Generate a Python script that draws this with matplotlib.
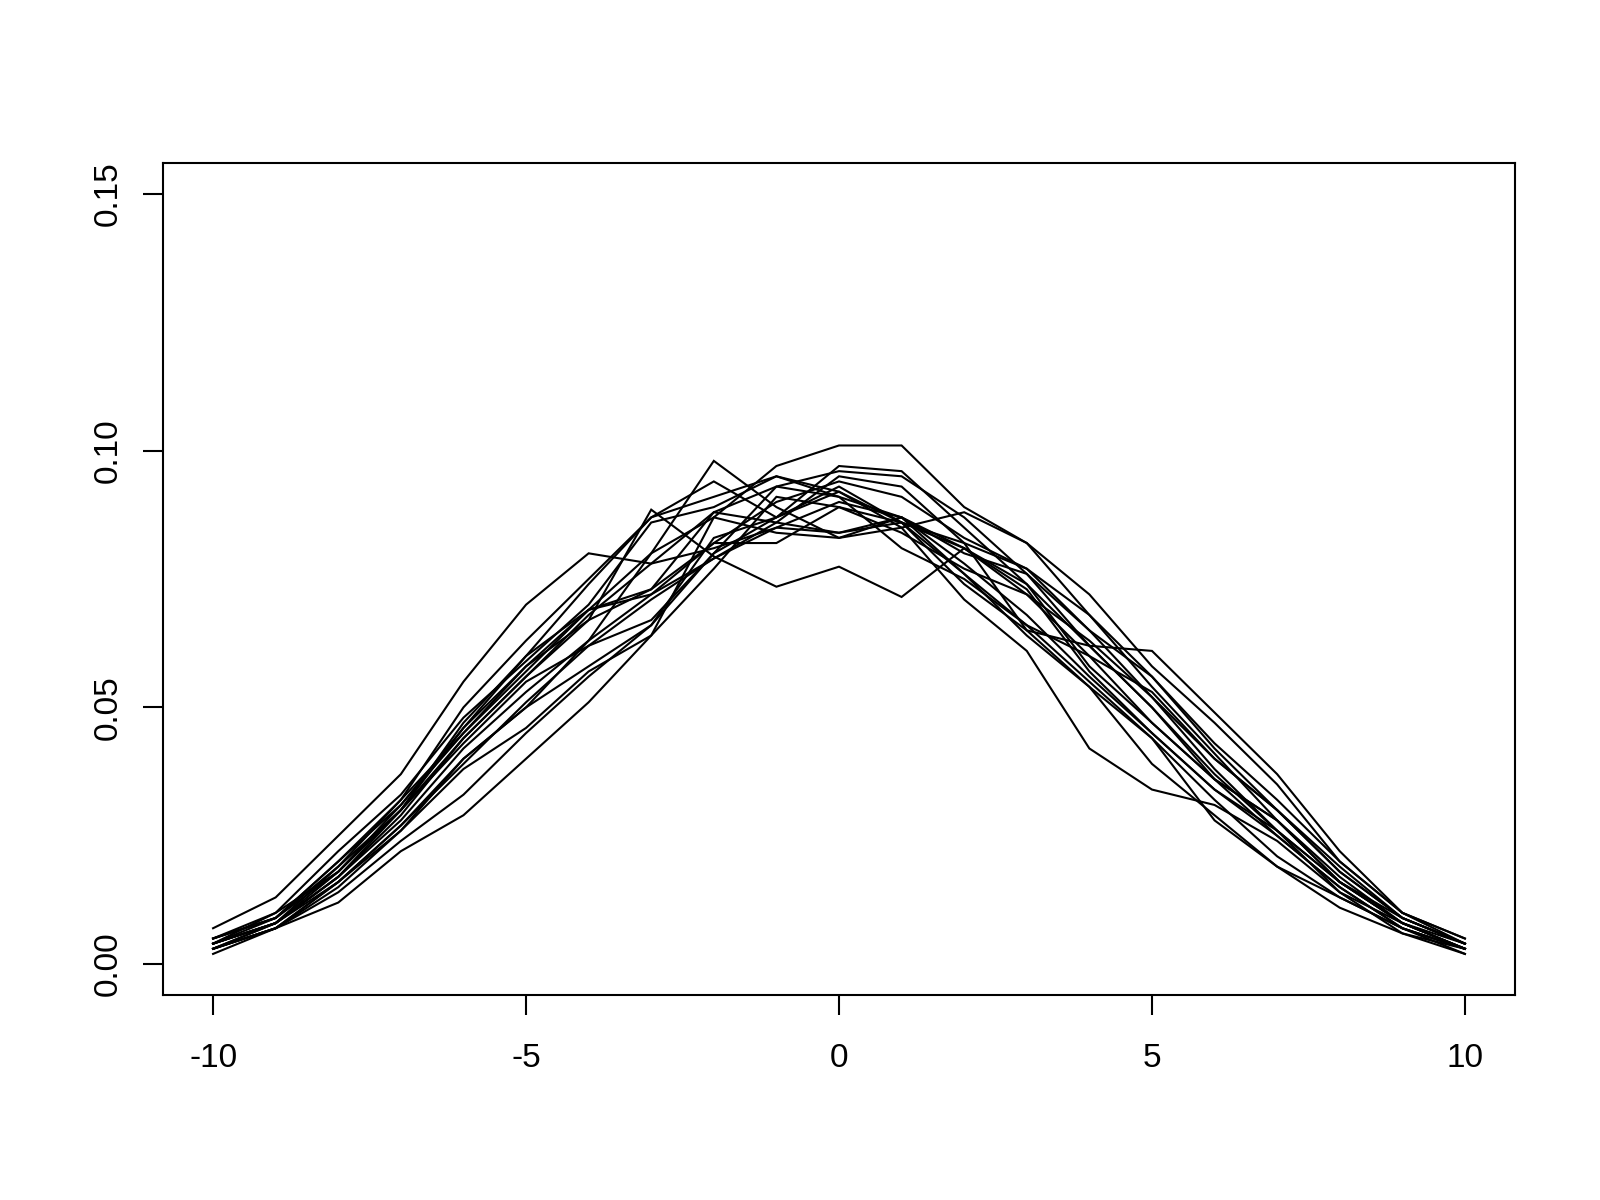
import matplotlib
matplotlib.use("Agg")
import matplotlib.pyplot as plt

x = list(range(-10, 11))

line01 = [0.004,0.008,0.016,0.027,0.040,0.050,0.063,0.080,0.087,0.097,0.101,0.101,0.089,0.082,0.068,0.054,0.041,0.028,0.017,0.008,0.004]
line02 = [0.005,0.009,0.020,0.031,0.045,0.058,0.067,0.0885,0.0794,0.0735,0.0774,0.0715,0.081,0.074,0.062,0.050,0.036,0.028,0.016,0.008,0.003]
line03 = [0.004,0.010,0.018,0.030,0.047,0.060,0.069,0.080,0.098,0.089,0.083,0.087,0.080,0.076,0.065,0.052,0.040,0.030,0.018,0.009,0.004]
line04 = [0.007,0.013,0.025,0.037,0.055,0.070,0.080,0.078,0.081,0.085,0.084,0.086,0.082,0.065,0.062,0.061,0.049,0.037,0.022,0.010,0.005]
line05 = [0.003,0.008,0.019,0.032,0.050,0.063,0.075,0.087,0.094,0.087,0.092,0.085,0.071,0.061,0.042,0.034,0.031,0.024,0.014,0.008,0.003]
line06 = [0.004,0.008,0.017,0.029,0.044,0.056,0.067,0.073,0.088,0.093,0.096,0.095,0.087,0.076,0.062,0.050,0.037,0.026,0.016,0.008,0.003]
line07 = [0.005,0.009,0.018,0.031,0.046,0.058,0.069,0.072,0.082,0.090,0.094,0.091,0.083,0.077,0.068,0.056,0.042,0.030,0.019,0.009,0.004]
line08 = [0.003,0.007,0.015,0.026,0.040,0.050,0.058,0.066,0.083,0.087,0.097,0.096,0.085,0.074,0.058,0.047,0.036,0.028,0.016,0.008,0.003]
line09 = [0.004,0.008,0.017,0.028,0.042,0.053,0.063,0.072,0.079,0.086,0.095,0.093,0.082,0.077,0.065,0.056,0.043,0.032,0.020,0.010,0.005]
line10 = [0.003,0.007,0.012,0.022,0.029,0.040,0.051,0.064,0.077,0.091,0.089,0.086,0.081,0.072,0.060,0.053,0.040,0.030,0.018,0.009,0.004]
line11 = [0.002,0.007,0.014,0.024,0.033,0.045,0.056,0.066,0.080,0.087,0.093,0.086,0.074,0.065,0.054,0.039,0.029,0.019,0.013,0.007,0.003]
line12 = [0.005,0.010,0.022,0.033,0.048,0.059,0.070,0.086,0.089,0.095,0.091,0.087,0.078,0.068,0.056,0.045,0.034,0.025,0.015,0.007,0.003]
line13 = [0.003,0.007,0.016,0.026,0.038,0.046,0.057,0.064,0.087,0.084,0.083,0.085,0.088,0.082,0.072,0.058,0.047,0.035,0.020,0.010,0.004]
line14 = [0.004,0.009,0.019,0.030,0.043,0.055,0.062,0.071,0.079,0.085,0.090,0.087,0.076,0.066,0.060,0.047,0.036,0.025,0.015,0.007,0.002]
line15 = [0.005,0.009,0.020,0.032,0.045,0.057,0.069,0.073,0.082,0.082,0.089,0.084,0.077,0.072,0.063,0.052,0.038,0.026,0.014,0.006,0.003]
line16 = [0.003,0.007,0.016,0.027,0.039,0.051,0.062,0.067,0.080,0.093,0.091,0.081,0.075,0.066,0.055,0.044,0.028,0.019,0.011,0.006,0.002]
line17 = [0.004,0.008,0.017,0.030,0.044,0.056,0.068,0.078,0.088,0.086,0.084,0.087,0.081,0.073,0.057,0.045,0.034,0.026,0.016,0.009,0.004]
line18 = [0.003,0.008,0.018,0.030,0.046,0.060,0.074,0.087,0.091,0.095,0.092,0.086,0.076,0.064,0.054,0.044,0.032,0.021,0.013,0.007,0.003]

series = [line01, line02, line03, line04, line05, line06, line07, line08, line09,
          line10, line11, line12, line13, line14, line15, line16, line17, line18]

xticks = [-10, -5, 0, 5, 10]
yticks = [0.00, 0.05, 0.10, 0.15]
yticklabels = ["0.00", "0.05", "0.10", "0.15"]

plt.rcParams['font.family'] = ['Liberation Sans', 'DejaVu Sans']

fig = plt.figure(figsize=(8, 6), dpi=200)
ax = fig.add_axes([163/1600, 1-995/1200, (1515-163)/1600, (995-163)/1200])

for s in series:
    ax.plot(x, s, color='black', linewidth=0.75, solid_joinstyle='miter')

ax.set_xlim(-10.8, 10.8)
ax.set_ylim(-0.006, 0.156)
ax.set_xticks(xticks)
ax.set_xticklabels([str(t) for t in xticks])
ax.set_yticks(yticks)
ax.set_yticklabels(yticklabels, rotation=90, va='center')
ax.tick_params(direction='out', length=7.2, width=0.75, labelsize=12, color='black')
ax.tick_params(axis='x', pad=10)
ax.tick_params(axis='y', pad=7)
for sp in ax.spines.values():
    sp.set_linewidth(0.75)
    sp.set_color('black')

fig.savefig('out.png', dpi=200)
